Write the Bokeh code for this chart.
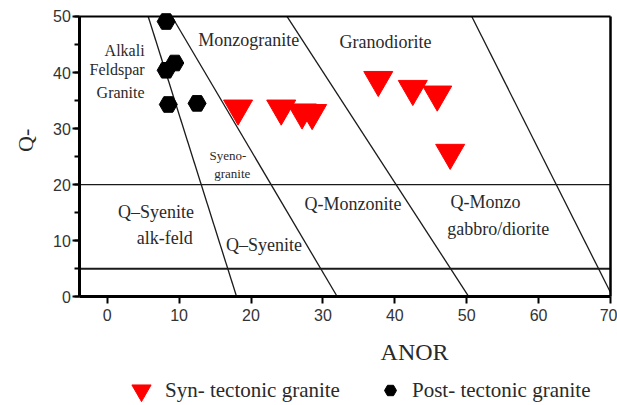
from bokeh.plotting import figure
from bokeh.models import (Range1d, SingleIntervalTicker, FixedTicker, Label, Legend,
                          LegendItem, LinearAxis)
from bokeh.embed import file_html
from bokeh.resources import INLINE
import math

# ---- data ----
syn_x = [18.2, 24.2, 27.1, 28.5, 37.7, 42.5, 45.9, 47.7]
syn_y = [33.6, 33.6, 32.9, 32.8, 38.7, 37.1, 36.1, 25.7]
post_x = [8.2, 9.4, 8.2, 8.5, 12.5]
post_y = [49.1, 41.7, 40.4, 34.3, 34.5]

# diagram limits
X_MIN, X_MAX = -3.8, 70
Y_MIN, Y_MAX = 0, 50

# field boundaries (ANOR at Q'=50, ANOR at Q'=0)
bound_top = [5.7, 9.0, 25.0, 50.7]
bound_bot = [18.0, 32.0, 50.3, 70.3]
hlines = [20, 5]

field_labels = ["Alkali", "Feldspar", "Granite", "Monzogranite", "Granodiorite",
                "Syeno-", "granite", "Q–Syenite", "alk-feld", "Q–Syenite",
                "Q-Monzonite", "Q-Monzo", "gabbro/diorite"]
label_x = [5.2, 5.2, 5.2, 19.7, 38.7, 16.8, 17.4, 6.8, 8.0, 21.8, 34.2, 52.6, 54.4]
label_y = [43.9, 40.6, 36.5, 45.8, 45.5, 25.2, 22.0, 15.2, 10.5, 9.2, 16.5, 16.9, 12.1]
label_size = ["16px", "16px", "16px", "18px", "18px", "13px", "13px",
              "18px", "18px", "18px", "18px", "18px", "18px"]
label_align = ["right", "right", "right"] + ["center"] * 10

SERIF = "Liberation Serif"
SANS = "Liberation Sans"
TXT = "#2a2a2a"

p = figure(width=617, height=405, output_backend="svg", toolbar_location=None,
           x_range=Range1d(-14.84, 70.97), y_range=Range1d(-19.39, 52.85),
           x_axis_type=None, y_axis_type=None,
           min_border_left=0, min_border_right=0, min_border_top=0, min_border_bottom=0)
p.grid.visible = False
p.outline_line_color = None
p.background_fill_color = "white"
p.border_fill_color = "white"

xax = LinearAxis(fixed_location=Y_MIN, bounds=(X_MIN, X_MAX),
                 ticker=SingleIntervalTicker(interval=10, num_minor_ticks=0))
yax = LinearAxis(fixed_location=X_MIN, bounds=(Y_MIN, Y_MAX),
                 ticker=SingleIntervalTicker(interval=10, num_minor_ticks=2))
for ax in (xax, yax):
    ax.axis_line_width = 3
    ax.axis_line_color = "black"
    ax.major_tick_line_width = 2
    ax.minor_tick_line_width = 2
    ax.major_tick_line_color = "black"
    ax.minor_tick_line_color = "black"
    ax.major_tick_out = 7
    ax.major_tick_in = 0
    ax.minor_tick_out = 5
    ax.minor_tick_in = 0
    ax.major_label_text_font = SANS
    ax.major_label_text_font_size = "16px"
    ax.major_label_text_color = "#333333"
yax.major_label_standoff = 2
xax.major_label_standoff = 5
p.add_layout(xax, "below")
p.add_layout(yax, "left")

# top and right border of the diagram box (axes without ticks)
top_ax = LinearAxis(fixed_location=Y_MAX, bounds=(X_MIN, X_MAX), ticker=FixedTicker(ticks=[]),
                    major_tick_line_color=None, minor_tick_line_color=None,
                    axis_line_width=2)
right_ax = LinearAxis(fixed_location=X_MAX, bounds=(Y_MIN, Y_MAX), ticker=FixedTicker(ticks=[]),
                      major_tick_line_color=None, minor_tick_line_color=None,
                      axis_line_width=2.5)
p.add_layout(top_ax, "above")
p.add_layout(right_ax, "right")

# boundaries (clipped to the diagram box)
for t, b in zip(bound_top, bound_bot):
    xs, ys = [t, b], [Y_MAX, Y_MIN]
    if b > X_MAX:
        frac = (X_MAX - t) / (b - t)
        xs = [t, X_MAX]
        ys = [Y_MAX, Y_MAX - frac * (Y_MAX - Y_MIN)]
    p.line(xs, ys, line_color="#1a1a1a", line_width=1.3)
p.line([X_MIN, X_MAX], [hlines[0]] * 2, line_color="#1a1a1a", line_width=1.2)
p.line([X_MIN, X_MAX], [hlines[1]] * 2, line_color="#1a1a1a", line_width=2)

# points
r_syn = p.scatter(syn_x, syn_y, marker="inverted_triangle", size=29,
                  fill_color="red", line_color="red")
r_post = p.scatter(post_x, post_y, marker="hex", size=18,
                   fill_color="black", line_color="black")

# field labels
for t, x, y, s, a in zip(field_labels, label_x, label_y, label_size, label_align):
    p.add_layout(Label(x=x, y=y, text=t, text_font=SERIF, text_font_size=s,
                       text_color=TXT, text_align=a, text_baseline="middle"))

# axis titles
p.add_layout(Label(x=42.75, y=-9.9, text="ANOR", text_font=SERIF, text_font_size="24px",
                   text_color=TXT, text_align="center", text_baseline="middle"))
p.add_layout(Label(x=-11.4, y=27.9, text="Q-", text_font=SERIF, text_font_size="22px",
                   text_color=TXT, text_align="center", text_baseline="middle",
                   angle=math.pi / 2))

# legends
lg1 = Legend(items=[LegendItem(label="Syn- tectonic granite", renderers=[r_syn])],
             location=(117, -9), glyph_width=48, glyph_height=48, label_standoff=0,
             padding=0, margin=0, border_line_color=None, background_fill_alpha=0,
             label_text_font=SERIF, label_text_font_size="21px", label_text_color=TXT)
lg2 = Legend(items=[LegendItem(label="Post- tectonic granite", renderers=[r_post])],
             location=(375, 0), glyph_width=30, glyph_height=30, label_standoff=7,
             padding=0, margin=0, border_line_color=None, background_fill_alpha=0,
             label_text_font=SERIF, label_text_font_size="21px", label_text_color=TXT)
p.add_layout(lg1)
p.add_layout(lg2)

open("out.html", "w").write(file_html(p, INLINE))
